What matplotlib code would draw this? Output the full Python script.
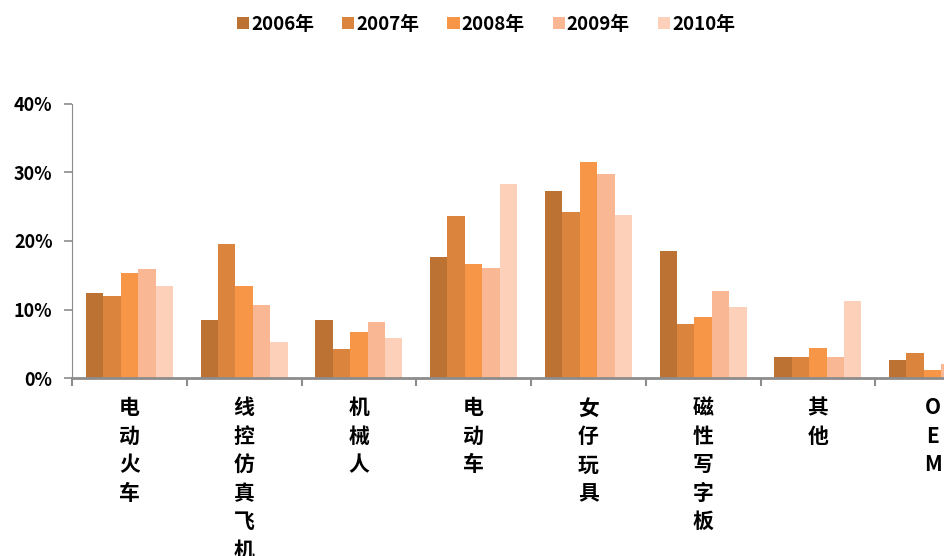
import matplotlib
matplotlib.use("Agg")
import numpy as np
import matplotlib.pyplot as plt
from matplotlib.ticker import FixedLocator, PercentFormatter

plt.rcParams['font.family'] = ['Noto Sans CJK SC', 'DejaVu Sans']

# Data
categories = ["电动火车", "线控仿真飞机", "机械人", "电动车", "女仔玩具", "磁性写字板", "其他", "OEM"]
years = ["2006年", "2007年", "2008年", "2009年", "2010年"]
v2006 = [12.4, 8.4, 8.4, 17.7, 27.3, 18.5, 3.1, 2.6]
v2007 = [12.0, 19.6, 4.2, 23.6, 24.2, 7.9, 3.1, 3.6]
v2008 = [15.3, 13.5, 6.7, 16.6, 31.6, 8.9, 4.4, 1.2]
v2009 = [15.9, 10.7, 8.2, 16.1, 29.8, 12.7, 3.1, 2.0]
v2010 = [13.5, 5.2, 5.9, 28.3, 23.8, 10.3, 11.2, 1.5]
series = [v2006, v2007, v2008, v2009, v2010]
colors = ["#BC7232", "#DB843E", "#F79646", "#FAB793", "#FCD0B9"]

fig = plt.figure(figsize=(9.44, 5.56), dpi=100)
# axes runs past the right edge, like the cropped original
ax = fig.add_axes([72/944, 178/556, 918/944, 274/556])

x = np.arange(len(categories))
w = 0.152
for k, (vals, c, lab) in enumerate(zip(series, colors, years)):
    ax.bar(x + (k - 2) * w, vals, width=w, color=c, label=lab, linewidth=0)

ax.set_xlim(-0.5, len(categories) - 0.5)
ax.set_ylim(0, 40)
ax.yaxis.set_major_locator(FixedLocator([0, 10, 20, 30, 40]))
ax.yaxis.set_major_formatter(PercentFormatter(decimals=0))

# boundary ticks, labels at group centres
ax.xaxis.set_major_locator(FixedLocator(np.arange(-0.5, len(categories), 1.0)))
ax.xaxis.set_major_formatter(plt.NullFormatter())
ax.xaxis.set_minor_locator(FixedLocator(x))
ax.set_xticklabels(["\n".join(c) for c in categories], minor=True)
ax.tick_params(axis='x', which='minor', length=0, pad=14, labelsize=15)
ax.tick_params(axis='x', which='major', length=6, width=1.5, color='#8c8c8c', direction='out')
ax.tick_params(axis='y', length=6, width=1.2, color='#8c8c8c', labelsize=13, pad=8)
for lab in ax.get_xticklabels(minor=True):
    lab.set_fontweight('heavy')
    lab.set_linespacing(1.44)
    lab.set_verticalalignment('top')
for lab in ax.get_yticklabels():
    lab.set_fontweight('bold')

for s in ['top', 'right']:
    ax.spines[s].set_visible(False)
ax.spines['left'].set_color('#8c8c8c')
ax.spines['bottom'].set_color('#8c8c8c')
ax.spines['bottom'].set_linewidth(2)

fig.legend(loc='center', bbox_to_anchor=(486/944, 1 - 24/556), ncol=5, frameon=False,
           handlelength=0.65, handleheight=0.65, handletextpad=0.1, columnspacing=1.5,
           prop={'weight': 'bold', 'size': 13.5})

fig.savefig("out.png", dpi=100)
